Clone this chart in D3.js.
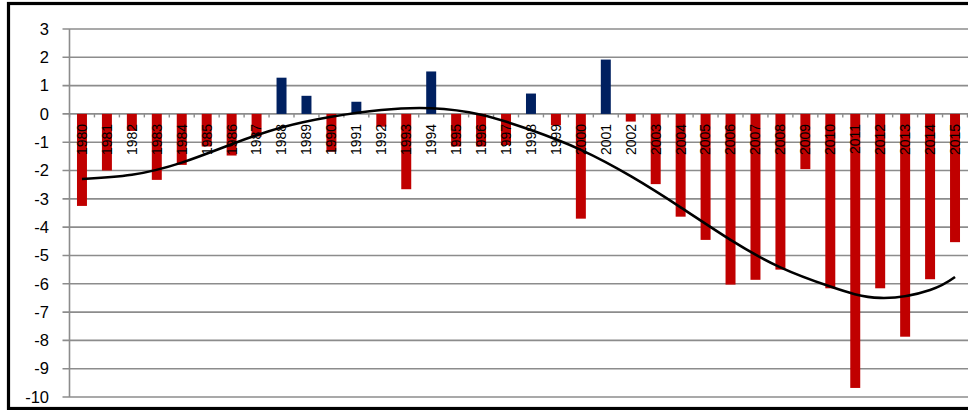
<!DOCTYPE html>
<html>
<head>
<meta charset="utf-8">
<script src="https://cdn.jsdelivr.net/npm/d3@7"></script>
<style>
  body { margin: 0; background: #fff; }
  svg { display: block; }
  .ylab { font-family: "Liberation Sans", Arial, sans-serif; font-size: 16.5px; fill: #000; }
  .xlab { font-family: "Liberation Sans", Arial, sans-serif; font-size: 14px; fill: #000; }
</style>
</head>
<body>
<div id="chart"></div>
<script>
// yearly values
var years = d3.range(1980, 2016);
var values = [-3.25, -2.0, -0.6, -2.33, -1.8, -1.15, -1.47, -0.8, 1.28, 0.64,
              -1.33, 0.43, -0.45, -2.66, 1.5, -1.15, -1.15, -1.1, 0.72, -0.4,
              -3.7, 1.92, -0.27, -2.48, -3.63, -4.45, -6.03, -5.86, -5.5, -1.95,
              -6.16, -9.68, -6.16, -7.87, -5.84, -4.53];

// trend curve
var trendYears = [1980, 1982, 1984, 1986, 1988, 1990, 1992, 1994, 1996, 1998,
                  2000, 2002, 2004, 2006, 2008, 2010, 2012, 2014, 2015];
var trendValues = [-2.3, -2.15, -1.72, -1.07, -0.48, -0.1, 0.14, 0.2, -0.03, -0.57,
                   -1.27, -2.2, -3.3, -4.45, -5.42, -6.1, -6.5, -6.22, -5.76];

var yTicks = [3, 2, 1, 0, -1, -2, -3, -4, -5, -6, -7, -8, -9, -10];

var W = 968, H = 410;
var plot = { left: 69.5, right: 967.5, top: 29, bottom: 397 };

var svg = d3.select('#chart').append('svg')
    .attr('width', W)
    .attr('height', H);

// outer frame
svg.append('rect')
    .attr('x', 8.5)
    .attr('y', 3.5)
    .attr('width', W + 10)
    .attr('height', 405)
    .attr('fill', 'none')
    .attr('stroke', '#000')
    .attr('stroke-width', 3.2);

var x = d3.scaleBand()
    .domain(years)
    .range([plot.left, plot.right])
    .paddingInner(0.6)
    .paddingOuter(0.3);

var y = d3.scaleLinear()
    .domain([-10, 3])
    .range([plot.bottom, plot.top]);

// gridlines
svg.append('g')
    .selectAll('line')
    .data(yTicks)
    .enter()
    .append('line')
    .attr('x1', plot.left - 7)
    .attr('x2', W)
    .attr('y1', d => y(d))
    .attr('y2', d => y(d))
    .attr('stroke', '#8c8c8c')
    .attr('stroke-width', 1.6);

// y axis line
svg.append('line')
    .attr('x1', plot.left)
    .attr('x2', plot.left)
    .attr('y1', y(3))
    .attr('y2', y(-10))
    .attr('stroke', '#8c8c8c')
    .attr('stroke-width', 1.6);

svg.append('g')
    .selectAll('text')
    .data(yTicks)
    .enter()
    .append('text')
    .attr('class', 'ylab')
    .attr('x', 49)
    .attr('y', d => y(d))
    .attr('dy', '0.35em')
    .attr('text-anchor', 'end')
    .text(d => d);

// bars
svg.append('g')
    .selectAll('rect')
    .data(years)
    .enter()
    .append('rect')
    .attr('x', d => x(d))
    .attr('width', x.bandwidth())
    .attr('y', (d, i) => y(Math.max(0, values[i])))
    .attr('height', (d, i) => Math.abs(y(values[i]) - y(0)))
    .attr('fill', (d, i) => values[i] >= 0 ? '#002060' : '#c00000');

// x axis ticks on zero line
var step = x.step();
svg.append('g')
    .selectAll('line')
    .data(d3.range(years.length + 1))
    .enter()
    .append('line')
    .attr('x1', d => plot.left + d * step)
    .attr('x2', d => plot.left + d * step)
    .attr('y1', y(0))
    .attr('y2', y(0) + 3.5)
    .attr('stroke', '#8c8c8c')
    .attr('stroke-width', 1.4);

// year labels
svg.append('g')
    .selectAll('text')
    .data(years)
    .enter()
    .append('text')
    .attr('class', 'xlab')
    .attr('transform', d => 'translate(' + (x(d) + x.bandwidth() / 2) + ',' + (y(0) + 10) + ') rotate(-90)')
    .attr('dy', '0.35em')
    .attr('text-anchor', 'end')
    .text(d => d);

// trend curve
var line = d3.line()
    .x(d => x(d) + x.bandwidth() / 2)
    .y((d, i) => y(trendValues[i]))
    .curve(d3.curveNatural);

svg.append('path')
    .datum(trendYears)
    .attr('d', line)
    .attr('fill', 'none')
    .attr('stroke', '#000')
    .attr('stroke-width', 2.6);
</script>
</body>
</html>
